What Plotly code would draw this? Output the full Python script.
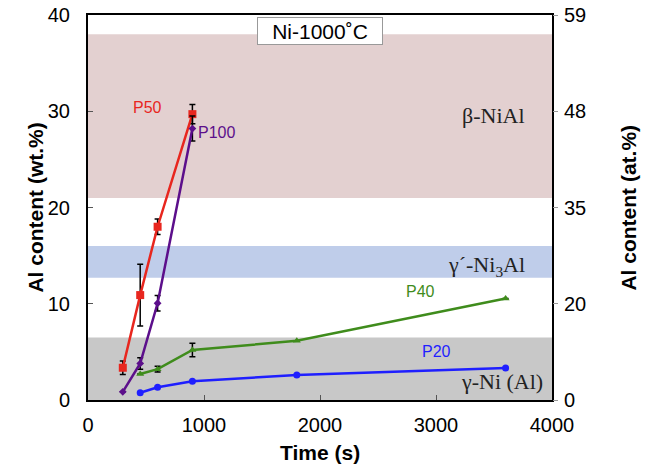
import plotly.graph_objects as go

# Data
t_p50 = [300, 450, 600, 900]
y_p50 = [3.35, 10.9, 18.0, 29.7]
e_p50 = [0.7, 3.2, 0.8, 1.0]

t_p100 = [300, 450, 600, 900]
y_p100 = [0.85, 3.8, 10.05, 28.2]
e_p100 = [0.0, 0.6, 0.8, 1.3]

t_p40 = [450, 600, 900, 1800, 3600]
y_p40 = [2.7, 3.2, 5.2, 6.15, 10.55]
e_p40 = [0.0, 0.3, 0.7, 0.0, 0.0]

t_p20 = [450, 600, 900, 1800, 3600]
y_p20 = [0.76, 1.32, 1.94, 2.6, 3.33]

x_ticks = [0, 1000, 2000, 3000, 4000]
wt_ticks = [0, 10, 20, 30, 40]
at_tick_labels = ["0", "20", "35", "48", "59"]

# Phase bands (wt.%)
bands = [
    ("beta", 21.0, 38.0, "rgb(227,208,208)"),
    ("gprime", 12.7, 16.0, "rgb(191,205,234)"),
    ("gamma", 0.0, 6.5, "rgb(200,200,200)"),
]

fig = go.Figure()

for name, lo, hi, col in bands:
    fig.add_shape(type="rect", xref="x domain", yref="y", x0=0, x1=1, y0=lo, y1=hi,
                  fillcolor=col, line=dict(width=0), layer="below")

def err(vals):
    return dict(type="data", array=vals, visible=True, color="black", thickness=1.5, width=3)

fig.add_trace(go.Scatter(x=t_p50, y=y_p50, mode="lines+markers", name="P50",
                         line=dict(color="#e8261e", width=2.5),
                         marker=dict(symbol="square", size=8, color="#e8261e"),
                         error_y=err(e_p50)))
fig.add_trace(go.Scatter(x=t_p100, y=y_p100, mode="lines+markers", name="P100",
                         line=dict(color="#5c0f8b", width=2.5),
                         marker=dict(symbol="diamond", size=6, color="#5c0f8b"),
                         error_y=err(e_p100)))
fig.add_trace(go.Scatter(x=t_p40, y=y_p40, mode="lines+markers", name="P40",
                         line=dict(color="#3f8c1c", width=2.5),
                         marker=dict(symbol="triangle-up", size=7, color="#3f8c1c"),
                         error_y=err(e_p40)))
fig.add_trace(go.Scatter(x=t_p20, y=y_p20, mode="lines+markers", name="P20",
                         line=dict(color="#1f1fff", width=2.5),
                         marker=dict(symbol="circle", size=7, color="#1f1fff")))
# trace bound to the secondary (at.%) axis so it is drawn
fig.add_trace(go.Scatter(x=[2000], y=[20], yaxis="y2", mode="markers",
                         marker=dict(opacity=0, size=1), showlegend=False, hoverinfo="skip"))

ann_font = dict(family="Arial", size=16)
fig.add_annotation(x=517, y=30.4, text="P50", showarrow=False, font=dict(ann_font, color="#e8261e"))
fig.add_annotation(x=1112, y=27.8, text="P100", showarrow=False, font=dict(ann_font, color="#5c0f8b"))
fig.add_annotation(x=2870, y=11.25, text="P40", showarrow=False, font=dict(ann_font, color="#3f8c1c"))
fig.add_annotation(x=3000, y=5.0, text="P20", showarrow=False, font=dict(ann_font, color="#1f1fff"))

serif = dict(family="Liberation Serif, Times New Roman, serif", size=22, color="#222222")
fig.add_annotation(x=3784, y=29.6, text="β-NiAl", showarrow=False, xanchor="right", font=serif)
fig.add_annotation(x=3784, y=13.9, text="γ´-Ni<sub>3</sub>Al", showarrow=False, xanchor="right", font=serif)
fig.add_annotation(x=3940, y=1.9, text="γ-Ni (Al)", showarrow=False, xanchor="right", font=serif)

fig.add_annotation(xref="paper", yref="paper", x=0.5, y=0.995, yanchor="top", xanchor="center",
                   text="Ni-1000˚C", showarrow=False,
                   font=dict(family="Arial", size=21, color="black"),
                   bgcolor="white", bordercolor="#999999", borderwidth=1, borderpad=2,
                   width=120, height=22)

# Axis titles as annotations for precise placement
title_font = dict(family="Arial", size=21, color="black")
fig.add_annotation(xref="paper", yref="paper", x=0.5, y=-0.137, yanchor="middle",
                   text="<b>Time (s)</b>", showarrow=False, font=title_font)
fig.add_annotation(xref="paper", yref="paper", x=-0.114, y=0.5, xanchor="center",
                   text="<b>Al content (wt.%)</b>", textangle=-90, showarrow=False, font=title_font)
fig.add_annotation(xref="paper", yref="paper", x=1.164, y=0.5, xanchor="center",
                   text="<b>Al content (at.%)</b>", textangle=-90, showarrow=False, font=title_font)

fig.update_layout(
    width=646, height=466,
    margin=dict(l=88, r=94, t=15, b=66, autoexpand=False),
    plot_bgcolor="white", paper_bgcolor="white",
    showlegend=False,
    font=dict(family="Arial", size=20, color="black"),
    xaxis=dict(range=[0, 4000], tickvals=x_ticks, automargin=False,
               ticks="inside", ticklen=5, tickcolor="#555555", ticklabelstandoff=6,
               showline=True, linecolor="black", linewidth=2, mirror=True,
               showgrid=False, zeroline=False),
    yaxis=dict(range=[0, 40], tickvals=wt_ticks, automargin=False,
               ticks="inside", ticklen=5, tickcolor="#555555", ticklabelstandoff=12,
               showline=True, linecolor="black", linewidth=2, mirror=True,
               showgrid=False, zeroline=False),
    yaxis2=dict(range=[0, 40], overlaying="y", side="right", automargin=False,
                tickvals=wt_ticks, ticktext=at_tick_labels,
                ticks="outside", ticklen=5, tickcolor="#999999", ticklabelstandoff=2,
                showline=False, showgrid=False, zeroline=False),
)

fig.write_html("out.html", config={"displayModeBar": False},
               post_script="document.body.style.margin='0';document.body.style.overflow='hidden';")
